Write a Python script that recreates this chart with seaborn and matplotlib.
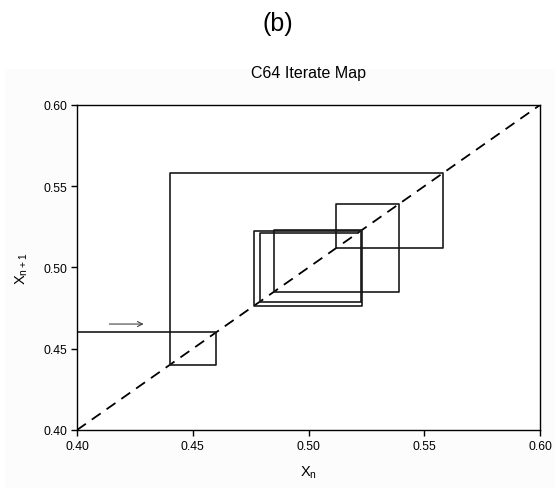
import numpy as np
import pandas as pd
import matplotlib
matplotlib.use("Agg")
import matplotlib.pyplot as plt
import seaborn as sns

# Iterates x_n
iterates = [0.46, 0.44, 0.558, 0.512, 0.539, 0.485, 0.5232, 0.4765, 0.5225, 0.479, 0.5212]
start_x = 0.40
diag = [0.40, 0.60]
xticks = [0.40, 0.45, 0.50, 0.55, 0.60]
yticks = [0.40, 0.45, 0.50, 0.55, 0.60]
arrow_from = (0.4128, 0.4652)
arrow_to = (0.4300, 0.4652)

# Build cobweb path from iterates
px = [start_x, iterates[0]]
py = [iterates[0], iterates[0]]
for k in range(len(iterates) - 1):
    px += [iterates[k], iterates[k + 1]]
    py += [iterates[k + 1], iterates[k + 1]]
path = pd.DataFrame({"x": px, "y": py, "order": range(len(px))})

sns.set_style("white")
plt.rcParams["font.family"] = ["Liberation Sans", "DejaVu Sans"]
plt.rcParams["mathtext.fontset"] = "custom"
plt.rcParams["mathtext.rm"] = "Liberation Sans"
plt.rcParams["text.color"] = "black"
plt.rcParams["axes.labelcolor"] = "black"

fig = plt.figure(figsize=(5.55, 4.89), dpi=100)
fig.patch.set_facecolor("white")
bg = plt.Rectangle((5 / 555, 0), 550 / 555, (489 - 70) / 489, transform=fig.transFigure,
                   facecolor="#fcfcfc", edgecolor="none", zorder=-10)
fig.patches.append(bg)

ax = fig.add_axes([77 / 555, (489 - 431) / 489, (540 - 77) / 555, (431 - 106) / 489])
ax.set_facecolor("white")

sns.lineplot(x=diag, y=diag, ax=ax, color="black", linewidth=1.3,
             linestyle=(0, (6, 4)), sort=False, estimator=None)
sns.lineplot(data=path, x="x", y="y", ax=ax, color="#1a1a1a", linewidth=1.2,
             sort=False, estimator=None)

ax.annotate("", xy=arrow_to, xytext=arrow_from,
            arrowprops=dict(arrowstyle="->", color="#444444", lw=0.8,
                            mutation_scale=9))

ax.set_xlim(0.40, 0.60)
ax.set_ylim(0.40, 0.60)
ax.set_xticks(xticks)
ax.set_yticks(yticks)
ax.set_xticklabels([f"{t:.2f}" for t in xticks])
ax.set_yticklabels([f"{t:.2f}" for t in yticks])
ax.tick_params(axis="both", direction="out", length=4, width=1, colors="black",
               labelsize=8.8, pad=3, bottom=True, left=True)
for s in ax.spines.values():
    s.set_color("black")
    s.set_linewidth(1.0)

ax.set_xlabel(r"X$_\mathregular{n}$", fontsize=10.5, labelpad=8, color="black")
ax.set_ylabel(r"X$_\mathregular{n+1}$", fontsize=10.5, labelpad=10, color="black")
ax.set_title("C64 Iterate Map", fontsize=11.5, pad=20, color="black")
fig.text(0.5, 1 - 24 / 489, "(b)", ha="center", va="center", fontsize=18, color="black")

fig.savefig("out.png", dpi=100)
